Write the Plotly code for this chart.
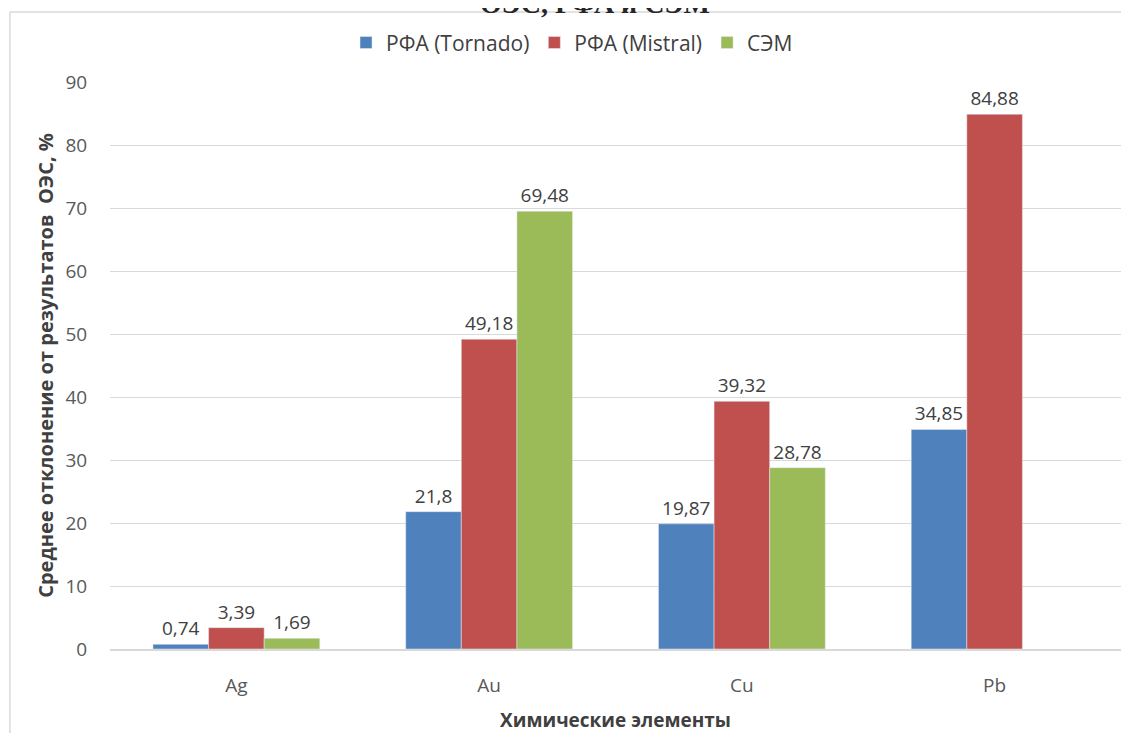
import plotly.graph_objects as go

# Данные
elementos = ['Ag', 'Au', 'Cu', 'Pb']
rfa_tornado = [0.74, 21.8, 19.87, 34.85]
rfa_mistral = [3.39, 49.18, 39.32, 84.88]
sem = [1.69, 69.48, 28.78, None]

series = [
    ('РФА (Tornado)', rfa_tornado, '#4f81bd'),
    ('РФА (Mistral)', rfa_mistral, '#c0504d'),
    ('СЭМ', sem, '#9bbb59'),
]

def fmt(v):
    if v is None:
        return ''
    return f'{v:g}'.replace('.', ',')

fig = go.Figure()
for nombre, valores, color in series:
    fig.add_trace(go.Bar(
        name=nombre, x=elementos, y=valores, marker_color=color,
        text=[fmt(v) for v in valores], textposition='outside',
        textfont=dict(size=19, color='#404040'), cliponaxis=False,
    ))

# la página añade 8px de margen al body, se compensa en tamaño y márgenes
fuente = 'Open Sans'
borde = dict(color='#d9d9d9', width=1.5)
fig.update_layout(
    width=1113, height=725,
    margin=dict(l=102, r=0, t=74, b=84),
    barmode='group', bargap=0.34, bargroupgap=0,
    plot_bgcolor='white', paper_bgcolor='white',
    font=dict(family=fuente, size=18, color='#595959'),
    legend=dict(orientation='h', x=0.457, xanchor='center', y=1.069, yanchor='middle',
                font=dict(size=21, color='#404040'), itemwidth=30, traceorder='normal'),
    xaxis=dict(automargin=False, showline=True, linecolor='#d9d9d9', linewidth=1.5,
               ticks='outside', ticklen=18, tickcolor='rgba(0,0,0,0)',
               tickfont=dict(size=19, color='#595959'),
               title=dict(text='<b>Химические элементы</b>', standoff=21,
                          font=dict(size=19, color='#404040'))),
    yaxis=dict(automargin=False, range=[0, 90], dtick=10, showgrid=True, gridcolor='#d9d9d9',
               zeroline=False, ticks='outside', ticklen=18, tickcolor='rgba(0,0,0,0)',
               tickfont=dict(size=19, color='#595959'),
               title=dict(text='<b>Среднее отклонение от результатов  ОЭС, %</b>', standoff=6,
                          font=dict(size=20, color='#404040'))),
    shapes=[
        dict(type='line', xref='paper', yref='paper', x0=-0.099, x1=-0.099,
             y0=-0.3, y1=1.1235, line=borde, layer='below'),
        dict(type='line', xref='paper', yref='paper', x0=-0.099, x1=1.2,
             y0=1.1235, y1=1.1235, line=borde, layer='below'),
    ],
    annotations=[dict(text='<b>ОЭС, РФА и СЭМ</b>', xref='paper', yref='paper',
                      x=0.48, y=1.1075, xanchor='center', yanchor='bottom', showarrow=False,
                      font=dict(family='Liberation Serif', size=28, color='#262626'))],
)

fig.write_html('out.html')
